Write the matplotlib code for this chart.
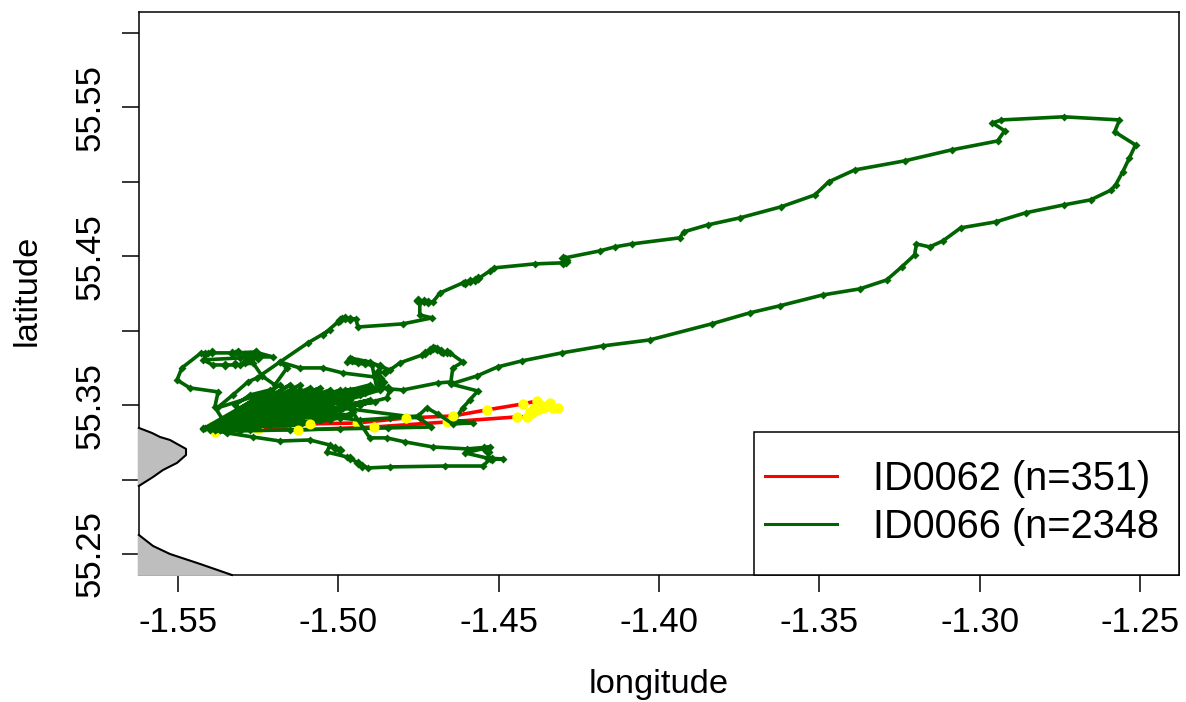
import matplotlib
matplotlib.use("Agg")
import matplotlib.pyplot as plt
from matplotlib.patches import Rectangle, Polygon
from matplotlib.lines import Line2D

plt.rcParams['font.family'] = ['Liberation Sans', 'DejaVu Sans']
plt.rcParams['axes.unicode_minus'] = False

x_ticks = [-1.55, -1.50, -1.45, -1.40, -1.35, -1.30, -1.25]
x_tick_labels = ['-1.55', '-1.50', '-1.45', '-1.40', '-1.35', '-1.30', '-1.25']
y_ticks = [55.25, 55.30, 55.35, 55.40, 55.45, 55.50, 55.55, 55.60]
y_tick_labels = ['55.25', '', '55.35', '', '55.45', '', '55.55', '']
x_limits = (-1.56216, -1.23784)
y_limits = (55.23589, 55.61411)

coast_north_lon = [-1.5622, -1.5581, -1.5556, -1.5525, -1.5475, -1.5475, -1.5503, -1.5547, -1.5578, -1.5622]
coast_north_lat = [55.3347, 55.3313, 55.3286, 55.3266, 55.3206, 55.3165, 55.3112, 55.3064, 55.3017, 55.2957]
coast_south_lon = [-1.5622, -1.5578, -1.5525, -1.5431, -1.5332]
coast_south_lat = [55.2628, 55.2554, 55.2500, 55.2433, 55.2359]

id0062_lon = [-1.5385, -1.5394, -1.5332, -1.5313, -1.5251, -1.5089, -1.4942, -1.4789, -1.4643, -1.4537,
              -1.4425, -1.4381, -1.4372, -1.4340, -1.4350, -1.4316, -1.4331, -1.4362, -1.4390, -1.4381,
              -1.4403, -1.4397, -1.4412, -1.4443, -1.4662, -1.4889, -1.5126, -1.5251]
id0062_lat = [55.3320, 55.3360, 55.3347, 55.3347, 55.3340, 55.3374, 55.3380, 55.3414, 55.3427, 55.3468,
              55.3508, 55.3528, 55.3501, 55.3515, 55.3495, 55.3481, 55.3481, 55.3481, 55.3481, 55.3468,
              55.3454, 55.3448, 55.3421, 55.3421, 55.3387, 55.3353, 55.3333, 55.3340]
id0062_on_top = [False, False, False, False, False, True, False, True, True, True,
                 True, True, True, True, True, True, True, True, True, True,
                 True, True, True, True, False, True, True, False]

id0066_lon = [
    -1.5422, -1.5360, -1.5385, -1.5375, -1.5463, -1.5503, -1.5488, -1.5428, -1.5406, -1.5322,
    -1.5260, -1.5204, -1.5266, -1.5307, -1.5422, -1.5391, -1.5307, -1.5266, -1.5238, -1.5198,
    -1.5160, -1.5182, -1.5120, -1.5048, -1.4986, -1.4886, -1.4870, -1.4839, -1.4849, -1.4933,
    -1.5057, -1.4979, -1.4880, -1.4895, -1.4973, -1.4964, -1.4902, -1.4839, -1.4808, -1.4739,
    -1.4699, -1.4674, -1.4652, -1.4612, -1.4643, -1.4649, -1.4690, -1.4799, -1.4880, -1.4995,
    -1.5120, -1.5378, -1.5120, -1.5385, -1.5057, -1.5363, -1.4979, -1.5338, -1.4917, -1.5307,
    -1.4886, -1.5394, -1.4964, -1.5353, -1.5042, -1.5307, -1.5120, -1.5369, -1.5176, -1.5385,
    -1.5238, -1.5378, -1.5329, -1.5282, -1.5254, -1.5182, -1.5095, -1.5026, -1.5048, -1.5001,
    -1.4989, -1.4945, -1.4939, -1.4799, -1.4708, -1.4746, -1.4746, -1.4755, -1.4705, -1.4683,
    -1.4612, -1.4590, -1.4565, -1.4527, -1.4515, -1.4387, -1.4300, -1.4294, -1.4185, -1.4138,
    -1.4085, -1.3935, -1.3923, -1.3848, -1.3748, -1.3620, -1.3514, -1.3471, -1.3390, -1.3234,
    -1.3087, -1.2944, -1.2922, -1.2960, -1.2932, -1.2738, -1.2564, -1.2579, -1.2514, -1.2533,
    -1.2554, -1.2576, -1.2589, -1.2654, -1.2738, -1.2857, -1.2950, -1.3059, -1.3115, -1.3156,
    -1.3197, -1.3203, -1.3243, -1.3290, -1.3374, -1.3490, -1.3624, -1.3717, -1.3836, -1.4029,
    -1.4175, -1.4303, -1.4428, -1.4503, -1.4568, -1.4649, -1.4565, -1.4590, -1.4612, -1.4637,
    -1.4580, -1.4643, -1.4690, -1.4724, -1.4752, -1.4839, -1.4933, -1.4995, -1.5151, -1.5082,
    -1.4986, -1.4746, -1.4711, -1.4845, -1.4995, -1.5151, -1.5307, -1.5422, -1.5347, -1.5266,
    -1.5182, -1.5089, -1.5026, -1.5036, -1.4973, -1.4908, -1.4839, -1.4668, -1.4549, -1.4527,
    -1.4487, -1.4537, -1.4605, -1.4527, -1.4599, -1.4705, -1.4792, -1.4849, -1.4902, -1.4955,
    -1.4995, -1.5120, -1.5416,
    -1.5182, -1.5385, -1.5151, -1.5369, -1.5120, -1.5338, -1.5089, -1.5353, -1.5057, -1.5400,
    -1.5026, -1.5307, -1.4995, -1.5369, -1.4964, -1.5338, -1.4933, -1.5385, -1.4902, -1.5307,
    -1.4870, -1.5276, -1.5213, -1.5057, -1.5244, -1.5026, -1.5276, -1.4995, -1.5213, -1.4964,
    -1.5307, -1.5089, -1.5276, -1.5120, -1.5244, -1.4995, -1.5244, -1.5057, -1.5182, -1.5089,
    -1.5213, -1.5151, -1.5182, -1.5120, -1.5244, -1.4964, -1.5182, -1.5026, -1.5151, -1.4995,
    -1.5213, -1.5057, -1.5120, -1.5182, -1.5089, -1.5151, -1.5026, -1.5151, -1.5057, -1.5276,
    -1.4933, -1.5244, -1.4902, -1.5307, -1.5120, -1.5369, -1.5338, -1.5307, -1.5322, -1.5276,
    -1.5213, -1.5182,
]
id0066_lat = [
    55.3340, 55.3400, 55.3488, 55.3589, 55.3616, 55.3669, 55.3750, 55.3851, 55.3851, 55.3851,
    55.3857, 55.3824, 55.3824, 55.3817, 55.3804, 55.3770, 55.3770, 55.3784, 55.3696, 55.3636,
    55.3750, 55.3790, 55.3750, 55.3750, 55.3716, 55.3689, 55.3636, 55.3602, 55.3548, 55.3501,
    55.3521, 55.3602, 55.3616, 55.3770, 55.3790, 55.3817, 55.3790, 55.3736, 55.3784, 55.3837,
    55.3884, 55.3851, 55.3851, 55.3790, 55.3750, 55.3656, 55.3649, 55.3602, 55.3616, 55.3568,
    55.3535, 55.3340, 55.3602, 55.3333, 55.3589, 55.3347, 55.3568, 55.3333, 55.3582, 55.3367,
    55.3521, 55.3347, 55.3481, 55.3327, 55.3454, 55.3400, 55.3535, 55.3353, 55.3568, 55.3367,
    55.3575, 55.3481, 55.3568, 55.3656, 55.3683, 55.3790, 55.3918, 55.4005, 55.3972, 55.4059,
    55.4086, 55.4079, 55.4025, 55.4046, 55.4086, 55.4106, 55.4193, 55.4200, 55.4193, 55.4254,
    55.4321, 55.4335, 55.4348, 55.4402, 55.4422, 55.4449, 55.4456, 55.4489, 55.4536, 55.4563,
    55.4583, 55.4624, 55.4664, 55.4711, 55.4758, 55.4832, 55.4912, 55.5000, 55.5080, 55.5141,
    55.5215, 55.5275, 55.5343, 55.5396, 55.5416, 55.5437, 55.5416, 55.5336, 55.5248, 55.5161,
    55.5067, 55.4980, 55.4946, 55.4879, 55.4845, 55.4792, 55.4731, 55.4691, 55.4603, 55.4563,
    55.4583, 55.4509, 55.4429, 55.4341, 55.4281, 55.4240, 55.4167, 55.4120, 55.4046, 55.3938,
    55.3898, 55.3851, 55.3797, 55.3757, 55.3696, 55.3642, 55.3595, 55.3535, 55.3481, 55.3400,
    55.3380, 55.3374, 55.3441, 55.3481, 55.3427, 55.3414, 55.3400, 55.3414, 55.3434, 55.3468,
    55.3481, 55.3414, 55.3353, 55.3347, 55.3340, 55.3333, 55.3327, 55.3347, 55.3313, 55.3286,
    55.3259, 55.3266, 55.3232, 55.3185, 55.3152, 55.3078, 55.3085, 55.3091, 55.3091, 55.3138,
    55.3138, 55.3145, 55.3179, 55.3219, 55.3206, 55.3219, 55.3253, 55.3280, 55.3280, 55.3454,
    55.3414, 55.3367, 55.3347,
    55.3636, 55.3333, 55.3636, 55.3367, 55.3636, 55.3333, 55.3616, 55.3367, 55.3616, 55.3333,
    55.3602, 55.3333, 55.3602, 55.3333, 55.3602, 55.3367, 55.3568, 55.3367, 55.3636, 55.3367,
    55.3602, 55.3333, 55.3568, 55.3535, 55.3501, 55.3568, 55.3434, 55.3535, 55.3434, 55.3535,
    55.3400, 55.3568, 55.3367, 55.3568, 55.3468, 55.3568, 55.3535, 55.3468, 55.3535, 55.3434,
    55.3501, 55.3568, 55.3400, 55.3468, 55.3400, 55.3434, 55.3468, 55.3400, 55.3501, 55.3468,
    55.3367, 55.3400, 55.3602, 55.3434, 55.3501, 55.3468, 55.3501, 55.3400, 55.3568, 55.3400,
    55.3501, 55.3367, 55.3535, 55.3333, 55.3434, 55.3333, 55.3400, 55.3468, 55.3501, 55.3568,
    55.3602, 55.3568,
]

dwell_lon = [
    -1.5416, -1.5394, -1.5332, -1.5313, -1.5291, -1.5276, -1.5257, -1.5251, -1.5291, -1.5322,
    -1.5353, -1.5276, -1.4958, -1.4939, -1.4917, -1.4870, -1.4730, -1.4715, -1.4705, -1.4693,
    -1.4680, -1.4662, -1.4855, -1.4870, -1.4861, -1.4845, -1.4877, -1.4752, -1.4733, -1.4721,
    -1.4605, -1.4590, -1.4574, -1.4565, -1.4300, -1.4291, -1.4300, -1.4291, -1.4995, -1.4979,
    -1.4964, -1.4521, -1.4546, -1.4534, -1.4995, -1.4964, -1.4939, -1.4926, -1.5011,
]
dwell_lat = [
    55.3844, 55.3857, 55.3851, 55.3857, 55.3837, 55.3837, 55.3857, 55.3817, 55.3790, 55.3777,
    55.3770, 55.3804, 55.3804, 55.3790, 55.3784, 55.3763, 55.3851, 55.3871, 55.3884, 55.3878,
    55.3864, 55.3857, 55.3723, 55.3683, 55.3656, 55.3616, 55.3723, 55.4207, 55.4200, 55.4193,
    55.4321, 55.4335, 55.4341, 55.4355, 55.4489, 55.4476, 55.4456, 55.4462, 55.4072, 55.4086,
    55.4079, 55.3138, 55.3212, 55.3185, 55.3199, 55.3145, 55.3112, 55.3091, 55.3212,
]

fig = plt.figure(figsize=(11.86, 7.02), dpi=100)
ax = fig.add_axes([139 / 1186, (702 - 575) / 702, 1040 / 1186, 563 / 702])
ax.set_xlim(*x_limits)
ax.set_ylim(*y_limits)

land_edge_west = x_limits[0] - 0.0004
land_edge_south = y_limits[0] - 0.0006
land = '#BEBEBE'
north = list(zip(coast_north_lon, coast_north_lat))
south = list(zip(coast_south_lon, coast_south_lat))
ax.add_patch(Polygon([(land_edge_west, coast_north_lat[0])] + north + [(land_edge_west, coast_north_lat[-1])],
                     fc=land, ec='none', zorder=3, clip_on=False))
ax.add_patch(Polygon([(land_edge_west, coast_south_lat[0])] + south[:-1] +
                     [(coast_south_lon[-1], land_edge_south), (land_edge_west, land_edge_south)],
                     fc=land, ec='none', zorder=3, clip_on=False))
ax.plot(coast_north_lon, coast_north_lat, color='black', lw=1.5, zorder=3.1, clip_on=False)
ax.plot(coast_south_lon, coast_south_lat, color='black', lw=1.5, zorder=3.1, clip_on=False)

ax.plot(id0062_lon, id0062_lat, color='#FF0000', lw=2.6, zorder=2)
ax.plot(id0062_lon, id0062_lat, ls='none', marker='o', ms=7.2, mfc='#FFFF00', mec='none', zorder=2.1)
ax.plot(id0066_lon, id0066_lat, color='#006400', lw=2.6, marker='D', ms=4.0, mec='none',
        zorder=2.2, solid_joinstyle='round')
ax.plot(dwell_lon, dwell_lat, ls='none', marker='D', ms=5.0, mfc='#006400', mec='none', zorder=2.2)
top_lon = [v for v, k in zip(id0062_lon, id0062_on_top) if k]
top_lat = [v for v, k in zip(id0062_lat, id0062_on_top) if k]
ax.plot(top_lon, top_lat, ls='none', marker='o', ms=7.2, mfc='#FFFF00', mec='none', zorder=2.3)

ax.set_xticks(x_ticks, x_tick_labels)
ax.set_yticks(y_ticks, y_tick_labels)
ax.tick_params(axis='both', direction='out', length=12.2, width=1.1, labelsize=25)
ax.tick_params(axis='x', pad=10)
ax.tick_params(axis='y', pad=11)
for t in ax.get_yticklabels():
    t.set_rotation(90)
    t.set_va('center')
for s in ax.spines.values():
    s.set_linewidth(1.1)

ax.set_xlabel('longitude', fontsize=24.8, va='center')
ax.set_ylabel('latitude', fontsize=24.8, va='center')
ax.xaxis.set_label_coords(0.5, -(684 - 575) / 563)
ax.yaxis.set_label_coords((27 - 139) / 1040, 0.505)

ax.add_patch(Rectangle(((754 - 139) / 1040, 0), (1179 - 754) / 1040, (575 - 432) / 563,
                       transform=ax.transAxes, fc='white', ec='black', lw=1.1, zorder=5, clip_on=False))
handles = [Line2D([], [], color='#FF0000', lw=2.2), Line2D([], [], color='#006400', lw=2.2)]
labels = ['ID0062 (n=351)', 'ID0066 (n=2348']
leg = ax.legend(handles, labels, loc='center left', bbox_to_anchor=((765 - 139) / 1040, (575 - 503) / 563),
                frameon=False, fontsize=28.6, handlelength=1.8, handletextpad=0.92,
                labelspacing=0.26, borderpad=0, borderaxespad=0)
leg.set_zorder(6)

fig.savefig('out.png', dpi=100)
